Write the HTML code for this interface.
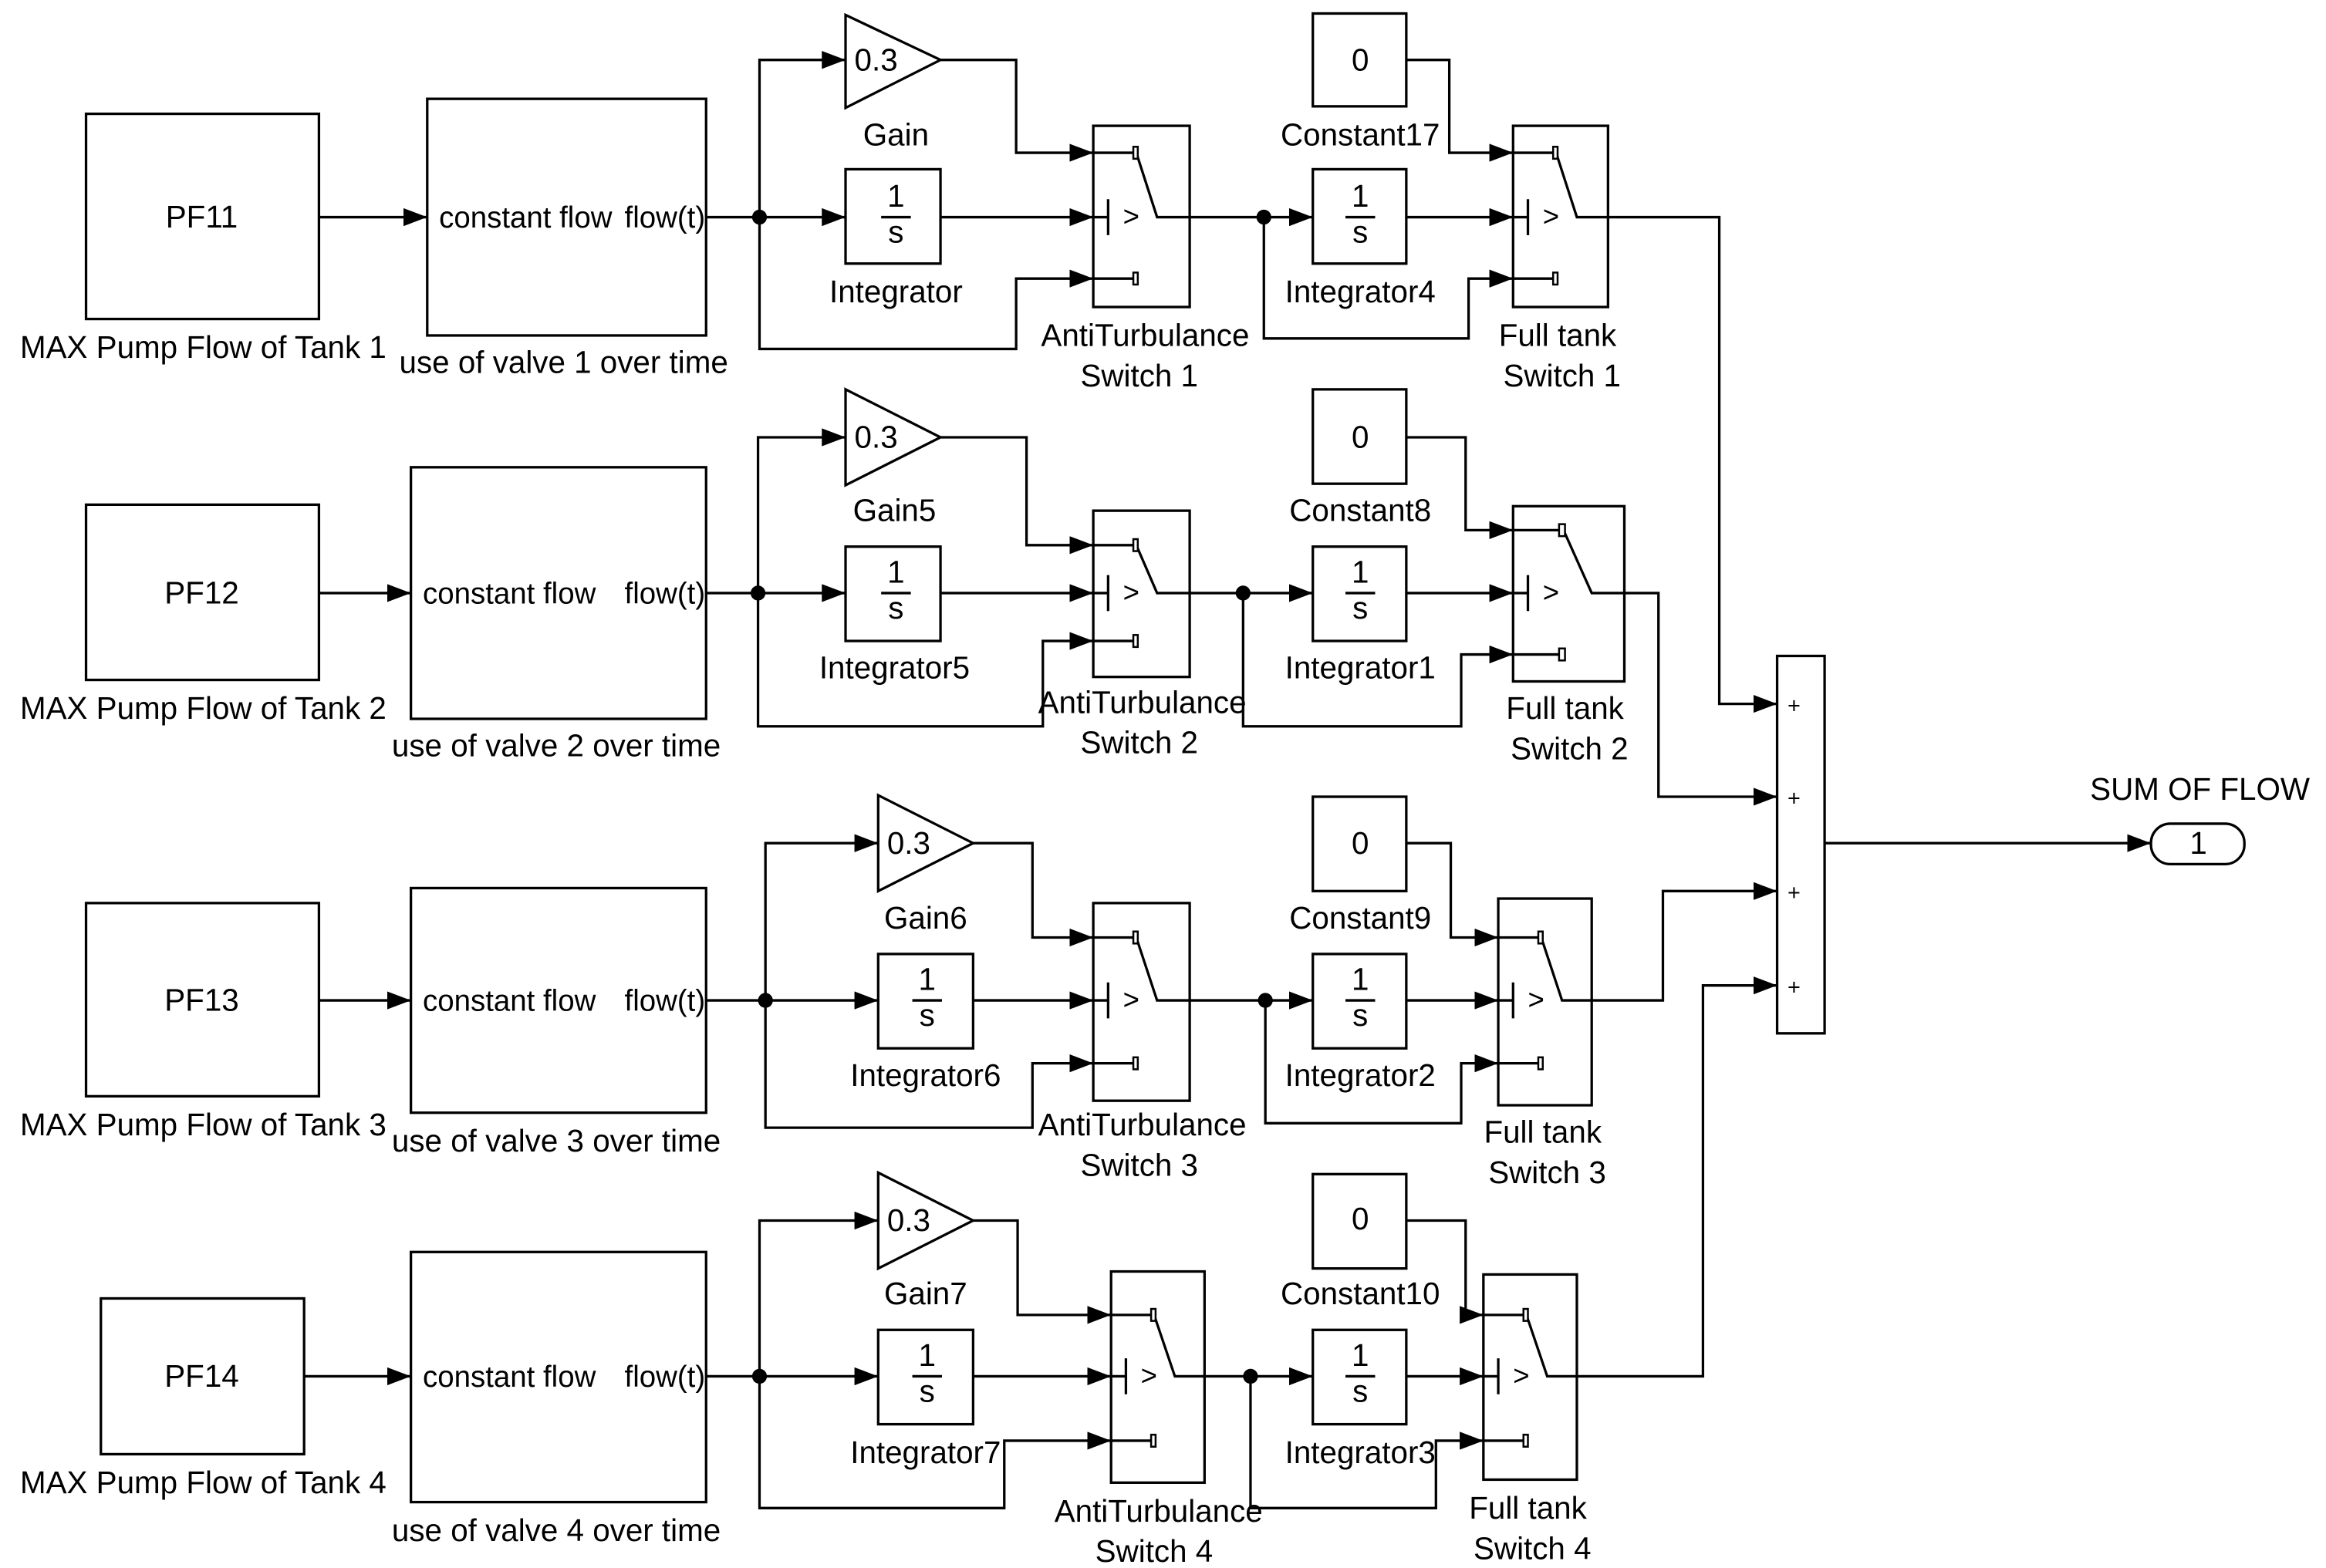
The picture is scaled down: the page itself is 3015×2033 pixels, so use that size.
<!DOCTYPE html>
<html><head><meta charset="utf-8"><style>
html,body{margin:0;padding:0;background:#fff;}
svg{display:block;}
text{font-family:"Liberation Sans",Arial,sans-serif;font-size:21px;fill:#000;}
</style></head><body>
<svg width="3015" height="2033" viewBox="0 0 1568 1047" preserveAspectRatio="none" xmlns="http://www.w3.org/2000/svg">
<defs>
<marker id="a" markerUnits="userSpaceOnUse" markerWidth="16" markerHeight="12" refX="16" refY="6" orient="auto"><path d="M0,0 L16,6 L0,12 z" fill="#000"/></marker>
</defs>
<g fill="none" stroke="#000" stroke-width="1.7">
<!-- Row 1 -->
<rect x="58" y="76" width="157" height="137"/>
<rect x="288" y="66" width="188" height="158"/>
<polyline points="215,145 288,145" marker-end="url(#a)"/>
<polyline points="476,145 512,145 570,145" marker-end="url(#a)"/>
<polyline points="512,145 512,40 570,40" marker-end="url(#a)"/>
<polyline points="512,145 512,233 685,233 685,186 737,186" marker-end="url(#a)"/>
<polygon points="570,10 634,40 570,72"/>
<rect x="570" y="113" width="64" height="63"/>
<polyline points="634,40 685,40 685,102 737,102" marker-end="url(#a)"/>
<polyline points="634,145 737,145" marker-end="url(#a)"/>
<rect x="737" y="84" width="65" height="121"/>
<polyline points="802,145 885,145" marker-end="url(#a)"/>
<polyline points="852,145 852,226 990,226 990,186 1020,186" marker-end="url(#a)"/>
<rect x="885" y="9" width="63" height="62"/>
<rect x="885" y="113" width="63" height="63"/>
<polyline points="948,40 977,40 977,102 1020,102" marker-end="url(#a)"/>
<polyline points="948,145 1020,145" marker-end="url(#a)"/>
<rect x="1020" y="84" width="64" height="121"/>
<polyline points="1084,145 1159,145 1159,470 1198,470" marker-end="url(#a)"/>
<!-- Row 2 -->
<rect x="58" y="337" width="157" height="117"/>
<rect x="277" y="312" width="199" height="168"/>
<polyline points="215,396 277,396" marker-end="url(#a)"/>
<polyline points="476,396 570,396" marker-end="url(#a)"/>
<polyline points="511,396 511,292 570,292" marker-end="url(#a)"/>
<polyline points="511,396 511,485 703,485 703,428 737,428" marker-end="url(#a)"/>
<polygon points="570,260 634,292 570,324"/>
<rect x="570" y="365" width="64" height="63"/>
<polyline points="634,292 692,292 692,364 737,364" marker-end="url(#a)"/>
<polyline points="634,396 737,396" marker-end="url(#a)"/>
<rect x="737" y="341" width="65" height="111"/>
<polyline points="802,396 885,396" marker-end="url(#a)"/>
<polyline points="838,396 838,485 985,485 985,437 1020,437" marker-end="url(#a)"/>
<rect x="885" y="260" width="63" height="63"/>
<rect x="885" y="365" width="63" height="63"/>
<polyline points="948,292 988,292 988,354 1020,354" marker-end="url(#a)"/>
<polyline points="948,396 1020,396" marker-end="url(#a)"/>
<rect x="1020" y="338" width="75" height="117"/>
<polyline points="1095,396 1118,396 1118,532 1198,532" marker-end="url(#a)"/>
<!-- Row 3 -->
<rect x="58" y="603" width="157" height="129"/>
<rect x="277" y="593" width="199" height="150"/>
<polyline points="215,668 277,668" marker-end="url(#a)"/>
<polyline points="476,668 592,668" marker-end="url(#a)"/>
<polyline points="516,668 516,563 592,563" marker-end="url(#a)"/>
<polyline points="516,668 516,753 696,753 696,710 737,710" marker-end="url(#a)"/>
<polygon points="592,531 656,563 592,595"/>
<rect x="592" y="637" width="64" height="63"/>
<polyline points="656,563 696,563 696,626 737,626" marker-end="url(#a)"/>
<polyline points="656,668 737,668" marker-end="url(#a)"/>
<rect x="737" y="603" width="65" height="132"/>
<polyline points="802,668 885,668" marker-end="url(#a)"/>
<polyline points="853,668 853,750 985,750 985,710 1010,710" marker-end="url(#a)"/>
<rect x="885" y="532" width="63" height="63"/>
<rect x="885" y="637" width="63" height="63"/>
<polyline points="948,563 978,563 978,626 1010,626" marker-end="url(#a)"/>
<polyline points="948,668 1010,668" marker-end="url(#a)"/>
<rect x="1010" y="600" width="63" height="138"/>
<polyline points="1073,668 1121,668 1121,595 1198,595" marker-end="url(#a)"/>
<!-- Row 4 -->
<rect x="68" y="867" width="137" height="104"/>
<rect x="277" y="836" width="199" height="167"/>
<polyline points="205,919 277,919" marker-end="url(#a)"/>
<polyline points="476,919 592,919" marker-end="url(#a)"/>
<polyline points="512,919 512,815 592,815" marker-end="url(#a)"/>
<polyline points="512,919 512,1007 677,1007 677,962 749,962" marker-end="url(#a)"/>
<polygon points="592,783 656,815 592,847"/>
<rect x="592" y="888" width="64" height="63"/>
<polyline points="656,815 686,815 686,878 749,878" marker-end="url(#a)"/>
<polyline points="656,919 749,919" marker-end="url(#a)"/>
<rect x="749" y="849" width="63" height="141"/>
<polyline points="812,919 885,919" marker-end="url(#a)"/>
<polyline points="843,919 843,1007 968,1007 968,962 1000,962" marker-end="url(#a)"/>
<rect x="885" y="784" width="63" height="63"/>
<rect x="885" y="888" width="63" height="63"/>
<polyline points="948,815 988,815 988,878 1000,878" marker-end="url(#a)"/>
<polyline points="948,919 1000,919" marker-end="url(#a)"/>
<rect x="1000" y="851" width="63" height="137"/>
<polyline points="1063,919 1148,919 1148,658 1198,658" marker-end="url(#a)"/>
<!-- Sum & out -->
<rect x="1198" y="438" width="32" height="252"/>
<polyline points="1230,563 1450,563" marker-end="url(#a)"/>
<rect x="1450" y="550" width="63" height="27" rx="13"/>
<!-- switch internals -->
<path d="M737 102h28M737 145h10M747 133v24M737 186h28M766 102L780 145H802"/>
<path d="M1020 102h28M1020 145h10M1030 133v24M1020 186h28M1049 102L1063 145H1084"/>
<path d="M737 364h28M737 396h10M747 384v24M737 428h28M766 364L780 396H802"/>
<path d="M1020 354h32M1020 396h10M1030 384v24M1020 437h32M1054 354L1073 396H1095"/>
<path d="M737 626h28M737 668h10M747 656v24M737 710h28M766 626L780 668H802"/>
<path d="M1010 626h28M1010 668h10M1020 656v24M1010 710h28M1039 626L1053 668H1073"/>
<path d="M749 878h28M749 919h10M759 907v24M749 962h28M778 878L792 919H812"/>
<path d="M1000 878h28M1000 919h10M1010 907v24M1000 962h28M1029 878L1043 919H1063"/>
<!-- integrator fraction lines -->
<path d="M594 145h20M907 145h20M594 396h20M907 396h20M615 668h20M907 668h20M615 919h20M907 919h20"/>
</g>
<g fill="#fff" stroke="#000" stroke-width="1.3">
<rect x="764" y="98" width="3" height="8"/><rect x="764" y="182" width="3" height="8"/>
<rect x="1047" y="98" width="3" height="8"/><rect x="1047" y="182" width="3" height="8"/>
<rect x="764" y="360" width="3" height="8"/><rect x="764" y="424" width="3" height="8"/>
<rect x="1051" y="350" width="4" height="8"/><rect x="1051" y="433" width="4" height="8"/>
<rect x="764" y="622" width="3" height="8"/><rect x="764" y="706" width="3" height="8"/>
<rect x="1037" y="622" width="3" height="8"/><rect x="1037" y="706" width="3" height="8"/>
<rect x="776" y="874" width="3" height="8"/><rect x="776" y="958" width="3" height="8"/>
<rect x="1027" y="874" width="3" height="8"/><rect x="1027" y="958" width="3" height="8"/>
</g>
<g fill="#000">
<circle cx="512" cy="145" r="5"/><circle cx="852" cy="145" r="5"/>
<circle cx="511" cy="396" r="5"/><circle cx="838" cy="396" r="5"/>
<circle cx="516" cy="668" r="5"/><circle cx="853" cy="668" r="5"/>
<circle cx="512" cy="919" r="5"/><circle cx="843" cy="919" r="5"/>
</g>
<g text-anchor="middle">
<text x="136" y="152">PF11</text><text x="137" y="239">MAX Pump Flow of Tank 1</text>
<text x="380" y="249">use of valve 1 over time</text>
<text x="604" y="97">Gain</text><text x="604" y="202">Integrator</text>
<text x="772" y="231">AntiTurbulance</text><text x="768" y="258">Switch 1</text>
<text x="917" y="97">Constant17</text><text x="917" y="202">Integrator4</text>
<text x="1050" y="231">Full tank</text><text x="1053" y="258">Switch 1</text>

<text x="136" y="403">PF12</text><text x="137" y="480">MAX Pump Flow of Tank 2</text>
<text x="375" y="505">use of valve 2 over time</text>
<text x="603" y="348">Gain5</text><text x="603" y="453">Integrator5</text>
<text x="770" y="476">AntiTurbulance</text><text x="768" y="503">Switch 2</text>
<text x="917" y="348">Constant8</text><text x="917" y="453">Integrator1</text>
<text x="1055" y="480">Full tank</text><text x="1058" y="507">Switch 2</text>

<text x="136" y="675">PF13</text><text x="137" y="758">MAX Pump Flow of Tank 3</text>
<text x="375" y="769">use of valve 3 over time</text>
<text x="624" y="620">Gain6</text><text x="624" y="725">Integrator6</text>
<text x="770" y="758">AntiTurbulance</text><text x="768" y="785">Switch 3</text>
<text x="917" y="620">Constant9</text><text x="917" y="725">Integrator2</text>
<text x="1040" y="763">Full tank</text><text x="1043" y="790">Switch 3</text>

<text x="136" y="926">PF14</text><text x="137" y="997">MAX Pump Flow of Tank 4</text>
<text x="375" y="1029">use of valve 4 over time</text>
<text x="624" y="871">Gain7</text><text x="624" y="977">Integrator7</text>
<text x="781" y="1016">AntiTurbulance</text><text x="778" y="1043">Switch 4</text>
<text x="917" y="871">Constant10</text><text x="917" y="977">Integrator3</text>
<text x="1030" y="1014">Full tank</text><text x="1033" y="1041">Switch 4</text>

<text x="917" y="47">0</text><text x="917" y="299">0</text><text x="917" y="570">0</text><text x="917" y="821">0</text>
<text x="604" y="138">1</text><text x="604" y="162">s</text><text x="917" y="138">1</text><text x="917" y="162">s</text>
<text x="604" y="389">1</text><text x="604" y="413">s</text><text x="917" y="389">1</text><text x="917" y="413">s</text>
<text x="625" y="661">1</text><text x="625" y="685">s</text><text x="917" y="661">1</text><text x="917" y="685">s</text>
<text x="625" y="912">1</text><text x="625" y="936">s</text><text x="917" y="912">1</text><text x="917" y="936">s</text>
<text x="1483" y="534">SUM OF FLOW</text><text x="1482" y="570">1</text>
</g>
<g>
<text x="296" y="152" style="font-size:20px">constant flow</text><text x="421" y="152" style="font-size:20px">flow(t)</text>
<text x="285" y="403" style="font-size:20px">constant flow</text><text x="421" y="403" style="font-size:20px">flow(t)</text>
<text x="285" y="675" style="font-size:20px">constant flow</text><text x="421" y="675" style="font-size:20px">flow(t)</text>
<text x="285" y="926" style="font-size:20px">constant flow</text><text x="421" y="926" style="font-size:20px">flow(t)</text>
<text x="576" y="47">0.3</text><text x="576" y="299">0.3</text><text x="598" y="570">0.3</text><text x="598" y="822">0.3</text>
<text x="757" y="151" style="font-size:19px">&gt;</text><text x="1040" y="151" style="font-size:19px">&gt;</text>
<text x="757" y="402" style="font-size:19px">&gt;</text><text x="1040" y="402" style="font-size:19px">&gt;</text>
<text x="757" y="674" style="font-size:19px">&gt;</text><text x="1030" y="674" style="font-size:19px">&gt;</text>
<text x="769" y="925" style="font-size:19px">&gt;</text><text x="1020" y="925" style="font-size:19px">&gt;</text>
<text x="1205" y="476" style="font-size:15px">+</text><text x="1205" y="538" style="font-size:15px">+</text>
<text x="1205" y="601" style="font-size:15px">+</text><text x="1205" y="664" style="font-size:15px">+</text>
</g>
</svg>
</body></html>
